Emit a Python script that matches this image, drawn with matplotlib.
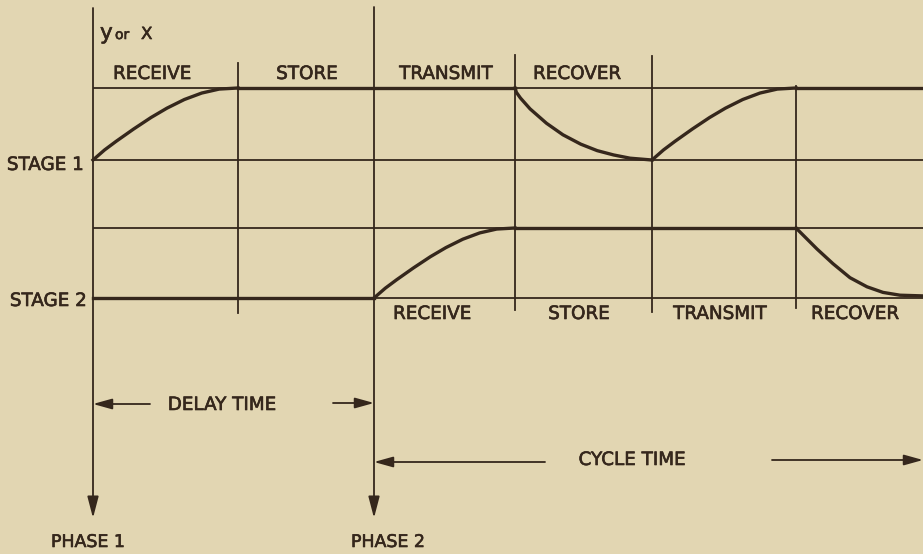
import matplotlib.pyplot as plt
import matplotlib.patheffects as pe

# Timing diagram: two stages, receive / store / transmit / recover
# Horizontal positions are in "time" units (px of the original), vertical are signal levels.

paper = '#e2d6b2'
ink = '#35271c'

# time boundaries between the phases of the cycle
bounds = [93, 238, 374, 515, 652, 796]
right_end = 923
# top / bottom ends of each vertical line
line_top = [8, 63, 7, 55, 56, 86]
line_bot = [518, 313, 518, 310, 312, 308]

# signal levels (high, low) for each stage
s1_high, s1_low = 88, 160
s2_high, s2_low = 228, 298

# shape of the charging (rise) curve: fraction of interval -> fraction of swing
rise_s = [0, 0.08, 0.16, 0.28, 0.40, 0.51, 0.63, 0.75, 0.87, 1.0]
rise_f = [0, 0.14, 0.26, 0.43, 0.59, 0.72, 0.84, 0.93, 0.985, 1.0]
# shape of the recovery (decay) curve in stage 1
dec_s = [0, 0.01, 0.04, 0.11, 0.23, 0.35, 0.48, 0.60, 0.72, 0.84, 1.0]
dec_f = [0, 0.06, 0.14, 0.29, 0.49, 0.65, 0.78, 0.87, 0.93, 0.975, 1.0]
# stage 2 recovery, cut off by the right edge (x, fraction of swing)
dec2_x = [796, 817, 833, 850, 867, 883, 900, 923]
dec2_f = [0, 0.30, 0.51, 0.71, 0.84, 0.92, 0.96, 0.97]

# labels
top_labels = ['RECEIVE', 'STORE', 'TRANSMIT', 'RECOVER']
top_label_x = [152, 307, 446, 577]
bot_labels = ['RECEIVE', 'STORE', 'TRANSMIT', 'RECOVER']
bot_label_x = [432, 579, 720, 855]


def seg(t0, t1, s, f, lo, hi):
    xs = [t0 + v * (t1 - t0) for v in s]
    ys = [lo + v * (hi - lo) for v in f]
    return xs, ys


fig = plt.figure(figsize=(9.23, 5.54), dpi=100, facecolor=paper)
ax = fig.add_axes([0, 0, 1, 1])
ax.set_facecolor(paper)
ax.set_xlim(0, 923)
ax.set_ylim(554, 0)
ax.axis('off')

thin = 1.3
thick = 2.4
heavy = [pe.withStroke(linewidth=0.45, foreground=ink)]

# grid of level lines
for yy in [s1_high, s1_low, s2_high, s2_low]:
    ax.plot([bounds[0], right_end], [yy, yy], color=ink, lw=thin, solid_capstyle='butt')

# vertical dividers (phase lines get arrows)
for i, x in enumerate(bounds):
    if i in (0, 2):
        ax.annotate('', xy=(x, line_bot[i]), xytext=(x, line_top[i]),
                    arrowprops=dict(arrowstyle='-|>,head_length=1.3,head_width=0.34',
                                    color=ink, lw=thin,
                                    mutation_scale=10, shrinkA=0, shrinkB=0))
    else:
        ax.plot([x, x], [line_top[i], line_bot[i]], color=ink, lw=thin)

# stage 1 curve
x, y = seg(bounds[0], bounds[1], rise_s, rise_f, s1_low, s1_high)
ax.plot(x, y, color=ink, lw=thick)
ax.plot([bounds[1], bounds[3]], [s1_high, s1_high], color=ink, lw=thick)
x, y = seg(bounds[3], bounds[4], dec_s, dec_f, s1_high, s1_low)
ax.plot(x, y, color=ink, lw=thick)
x, y = seg(bounds[4], bounds[5], rise_s, rise_f, s1_low, s1_high)
ax.plot(x, y, color=ink, lw=thick)
ax.plot([bounds[5], right_end], [s1_high, s1_high], color=ink, lw=thick)

# stage 2 curve
ax.plot([bounds[0], bounds[2]], [s2_low, s2_low], color=ink, lw=thick)
x, y = seg(bounds[2], bounds[3], rise_s, rise_f, s2_low, s2_high)
ax.plot(x, y, color=ink, lw=thick)
ax.plot([bounds[3], bounds[5]], [s2_high, s2_high], color=ink, lw=thick)
ax.plot(dec2_x, [s2_high + v * (s2_low - s2_high) for v in dec2_f], color=ink, lw=thick)

fs = 13.2
txt = dict(color=ink, path_effects=heavy)
for lab, xx in zip(top_labels, top_label_x):
    ax.text(xx, 74, lab, ha='center', va='center', fontsize=fs, **txt)
for lab, xx in zip(bot_labels, bot_label_x):
    ax.text(xx, 314, lab, ha='center', va='center', fontsize=fs, **txt)

ax.text(84, 165, 'STAGE 1', ha='right', va='center', fontsize=fs, **txt)
ax.text(87, 301, 'STAGE 2', ha='right', va='center', fontsize=fs, **txt)

# y or X
ax.text(100, 39, 'y', ha='left', va='baseline', fontsize=15.5, **txt)
ax.text(115, 39, 'or', ha='left', va='baseline', fontsize=10, **txt)
ax.text(141, 39, 'X', ha='left', va='baseline', fontsize=12, **txt)

# delay time
arrow = dict(arrowstyle='-|>,head_length=1.15,head_width=0.32', color=ink, lw=thin,
             mutation_scale=10, shrinkA=0, shrinkB=0)
ax.annotate('', xy=(bounds[0], 404), xytext=(150, 404), arrowprops=arrow)
ax.annotate('', xy=(bounds[2], 403), xytext=(333, 403), arrowprops=arrow)
ax.text(222, 405, 'DELAY TIME', ha='center', va='center', fontsize=fs, **txt)

# cycle time
ax.annotate('', xy=(bounds[2], 462), xytext=(545, 462), arrowprops=arrow)
ax.annotate('', xy=(right_end, 460), xytext=(772, 460), arrowprops=arrow,
            annotation_clip=False)
ax.text(632, 460, 'CYCLE TIME', ha='center', va='center', fontsize=fs, **txt)

ax.text(88, 542, 'PHASE 1', ha='center', va='center', fontsize=12.5, **txt)
ax.text(388, 542, 'PHASE 2', ha='center', va='center', fontsize=12.5, **txt)

fig.savefig('out.png', dpi=100, facecolor=paper)
